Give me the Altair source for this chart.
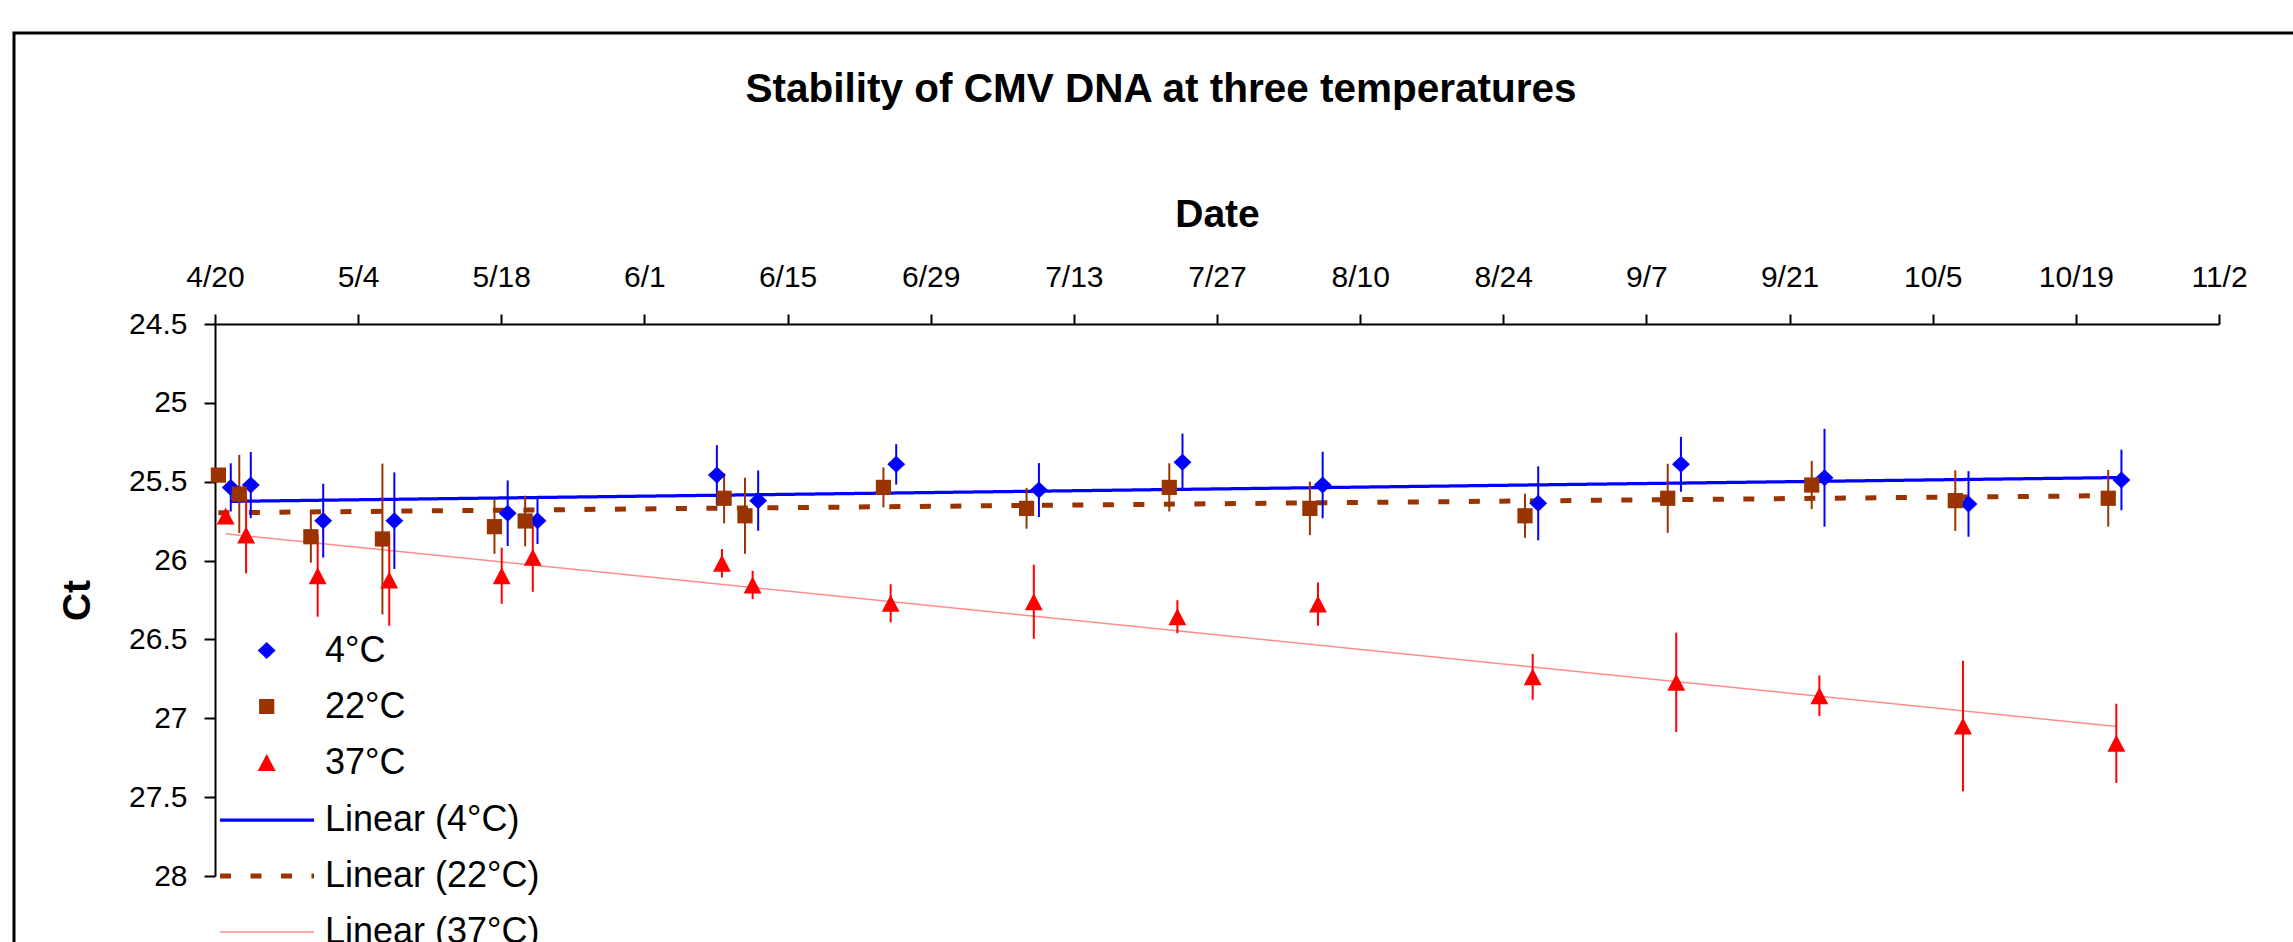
import altair as alt
import pandas as pd

FONT = "Liberation Sans"

series_names = ["4°C", "22°C", "37°C"]
fit_names = ["Linear (4°C)", "Linear (22°C)", "Linear (37°C)"]
point_colors = ["#0000FF", "#993300", "#FF0000"]
line_colors = {"Linear (4°C)": "#0000FF", "Linear (22°C)": "#993300", "Linear (37°C)": "#FF8C8C"}
line_dashes = {"Linear (4°C)": [1, 0], "Linear (22°C)": [11, 19.5], "Linear (37°C)": [1, 0]}

# 4°C
dates_4 = ["2009-04-21 13:00", "2009-04-23 12:00", "2009-04-30 14:00", "2009-05-07 13:00",
           "2009-05-18 15:00", "2009-05-21 13:00", "2009-06-08 02:00", "2009-06-12 03:00",
           "2009-06-25 15:00", "2009-07-09 14:00", "2009-07-23 15:00", "2009-08-06 08:00",
           "2009-08-27 10:00", "2009-09-10 09:00", "2009-09-24 10:00", "2009-10-08 12:00",
           "2009-10-23 11:00"]
ct_4 = [25.536, 25.521, 25.747, 25.747, 25.700, 25.747, 25.458, 25.620, 25.390, 25.553,
        25.377, 25.521, 25.637, 25.390, 25.475, 25.641, 25.489]
err_4 = [0.153, 0.209, 0.234, 0.306, 0.208, 0.148, 0.190, 0.191, 0.128, 0.171,
         0.182, 0.211, 0.235, 0.174, 0.310, 0.208, 0.192]

# 22°C
dates_22 = ["2009-04-20 08:00", "2009-04-22 09:00", "2009-04-29 09:00", "2009-05-06 09:00",
            "2009-05-17 08:00", "2009-05-20 08:00", "2009-06-08 19:00", "2009-06-10 20:00",
            "2009-06-24 09:00", "2009-07-08 09:00", "2009-07-22 08:00", "2009-08-05 02:00",
            "2009-08-26 03:00", "2009-09-09 02:00", "2009-09-23 04:00", "2009-10-07 05:00",
            "2009-10-22 04:00"]
ct_22 = [25.458, 25.578, 25.849, 25.863, 25.785, 25.749, 25.605, 25.716, 25.536, 25.669,
         25.536, 25.669, 25.716, 25.605, 25.521, 25.620, 25.605]
err_22 = [0.040, 0.248, 0.164, 0.478, 0.172, 0.161, 0.159, 0.241, 0.127, 0.129,
          0.153, 0.170, 0.140, 0.219, 0.153, 0.192, 0.180]

# 37°C
dates_37 = ["2009-04-21 01:00", "2009-04-23 01:00", "2009-04-30 01:00", "2009-05-07 01:00",
            "2009-05-18 01:00", "2009-05-21 02:00", "2009-06-08 14:00", "2009-06-11 14:00",
            "2009-06-25 02:00", "2009-07-09 02:00", "2009-07-23 03:00", "2009-08-05 21:00",
            "2009-08-26 21:00", "2009-09-09 22:00", "2009-09-23 22:00", "2009-10-07 23:00",
            "2009-10-22 23:00"]
ct_37 = [25.718, 25.838, 26.096, 26.123, 26.096, 25.979, 26.017, 26.155, 26.271, 26.261,
         26.356, 26.276, 26.737, 26.772, 26.857, 27.049, 27.159]
err_37 = [0.030, 0.243, 0.260, 0.290, 0.178, 0.219, 0.090, 0.090, 0.121, 0.235,
          0.105, 0.137, 0.146, 0.315, 0.129, 0.414, 0.251]

x_tick_labels = ["4/20", "5/4", "5/18", "6/1", "6/15", "6/29", "7/13", "7/27",
                 "8/10", "8/24", "9/7", "9/21", "10/5", "10/19", "11/2"]
y_ticks = [24.5, 25, 25.5, 26, 26.5, 27, 27.5, 28]


def to_ms(strings):
    return ((pd.to_datetime(strings) - pd.Timestamp("1970-01-01")) // pd.Timedelta(milliseconds=1)).tolist()


frames = []
for name, d, c, e in [(series_names[0], dates_4, ct_4, err_4),
                      (series_names[1], dates_22, ct_22, err_22),
                      (series_names[2], dates_37, ct_37, err_37)]:
    frames.append(pd.DataFrame({"date": to_ms(d), "ct": c, "err": e, "series": name}))
df = pd.concat(frames, ignore_index=True)

tick_ms = to_ms(["2009-" + t.replace("/", "-") for t in x_tick_labels])
x_domain = [tick_ms[0], tick_ms[-1]]

W, H = 2004, 552

x_axis = alt.Axis(orient="top", values=tick_ms, labelExpr="utcFormat(datum.value, '%-m/%-d')",
                  title="Date", titleFont=FONT, titleFontSize=39, titleFontWeight="bold",
                  titleColor="black", titleX=W / 2, titleY=-98, titleBaseline="alphabetic",
                  titleAlign="center", labelFont=FONT, labelFontSize=30, labelColor="black",
                  labelBaseline="alphabetic", labelPadding=28, labelFlush=False, labelOverlap=False,
                  tickSize=10, tickWidth=2, tickColor="black", domainColor="black",
                  domainWidth=2, grid=False)
y_axis = alt.Axis(values=y_ticks, format="~g", title="Ct", titleFont=FONT, titleFontSize=39,
                  titleFontWeight="bold", titleColor="black", titleX=-138, titleY=H / 2,
                  titleAngle=270, titleAlign="center", titleBaseline="middle",
                  labelFont=FONT, labelFontSize=30, labelColor="black", labelPadding=17,
                  labelFlush=False, labelOverlap=False, tickSize=11, tickWidth=2,
                  tickColor="black", domainColor="black", domainWidth=2, grid=False)

x_scale = alt.Scale(type="utc", domain=x_domain, nice=False)
y_scale = alt.Scale(domain=[24.5, 28], reverse=True, nice=False, zero=False)

x_enc = alt.X("date:T", scale=x_scale, axis=x_axis)
y_enc = alt.Y("ct:Q", scale=y_scale, axis=y_axis)

legend_points = alt.Legend(orient="none", legendX=33.7, legendY=308.5, title=None, symbolSize=320,
                           clipHeight=36, labelFont=FONT, labelFontSize=36, labelColor="black",
                           labelOffset=40.3, rowPadding=20, padding=0, symbolStrokeWidth=0,
                           labelLimit=600)
legend_lines = alt.Legend(orient="none", legendX=2.5, legendY=478, title=None, symbolType="stroke",
                          symbolSize=8836, clipHeight=36, labelFont=FONT, labelFontSize=36,
                          labelColor="black", labelOffset=8.5, rowPadding=20, padding=0,
                          labelLimit=600, values=fit_names)

shape_range = ["M0,-0.95L1,0L0,0.95L-1,0Z",
               "M-0.85,-0.85L0.85,-0.85L0.85,0.85L-0.85,0.85Z",
               "M0,-0.95L1,0.95L-1,0.95Z"]

# order of the line scales: thinnest (37°C) to thickest (22°C) so widths rise monotonically
fit_order = [fit_names[2], fit_names[0], fit_names[1]]

base = alt.Chart(df)

trend = base.transform_regression("date", "ct", groupby=["series"]).transform_calculate(
    fit='"Linear (" + datum.series + ")"'
).mark_line(clip=True).encode(
    x=x_enc,
    y=y_enc,
    stroke=alt.Stroke("fit:N", scale=alt.Scale(domain=fit_order,
                                               range=[line_colors[f] for f in fit_order]),
                      legend=legend_lines),
    strokeDash=alt.StrokeDash("fit:N", scale=alt.Scale(domain=fit_order,
                                                       range=[line_dashes[f] for f in fit_order]),
                              legend=legend_lines),
    strokeWidth=alt.StrokeWidth("fit:N", scale=alt.Scale(type="point", domain=fit_order,
                                                         range=[1.5, 5], padding=0),
                                legend=legend_lines),
    detail="fit:N",
)

err_layers = []
for name, col in zip(series_names, point_colors):
    err_layers.append(
        base.transform_filter(alt.datum.series == name).transform_calculate(
            lo="datum.ct - datum.err", hi="datum.ct + datum.err"
        ).mark_rule(strokeWidth=2, color=col).encode(
            x=x_enc,
            y=alt.Y("lo:Q", scale=y_scale, axis=y_axis),
            y2="hi:Q",
        )
    )

points = base.mark_point(filled=True, size=320, opacity=1, strokeWidth=0).encode(
    x=x_enc,
    y=y_enc,
    color=alt.Color("series:N", scale=alt.Scale(domain=series_names, range=point_colors),
                    legend=legend_points),
    shape=alt.Shape("series:N", scale=alt.Scale(domain=series_names, range=shape_range),
                    legend=legend_points),
)

frame = alt.Chart(pd.DataFrame({"k": [0]})).mark_rect(
    fillOpacity=0, stroke="black", strokeWidth=3
).encode(x=alt.value(-201), x2=alt.value(2110), y=alt.value(-291), y2=alt.value(660))

chart = alt.layer(frame, trend, *err_layers, points).properties(
    width=W, height=H,
    autosize=alt.AutoSizeParams(type="none"),
    padding={"left": 215, "top": 324, "right": 74, "bottom": 66},
    title=alt.TitleParams(text="Stability of CMV DNA at three temperatures", font=FONT,
                          fontSize=40.5, fontWeight="bold", color="black", anchor="middle",
                          frame="group", dx=-56, dy=79, offset=0),
    background="white",
).configure_view(strokeWidth=0)

chart.save("out.html", embed_options={"renderer": "svg", "actions": False})
